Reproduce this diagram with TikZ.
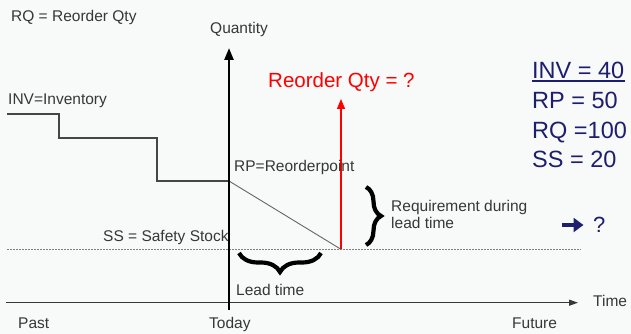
\documentclass[tikz,border=0pt]{standalone}
\usepackage{fontspec}
\setmainfont{Liberation Sans}
\usetikzlibrary{arrows.meta,decorations.pathreplacing}
\definecolor{bg}{RGB}{247,250,248}
\definecolor{txt}{RGB}{55,55,55}
\definecolor{navyc}{RGB}{30,30,110}
\definecolor{invline}{RGB}{70,70,70}
\begin{document}
\begin{tikzpicture}[x=1pt,y=-1pt,
  lbl/.style={font=\fontsize{15.5}{18}\selectfont, text=txt, inner sep=0pt, anchor=base west},
  big/.style={font=\fontsize{23.5}{28}\selectfont, text=navyc, inner sep=0pt, anchor=base west},
  redlbl/.style={font=\fontsize{20.5}{24}\selectfont, text=red, inner sep=0pt, anchor=base west},
  bracestyle/.style={decorate, decoration={brace, amplitude=#1}, line width=4.2pt, black},
  sstyle/.style={gray, line width=0.8pt, dash pattern=on 2pt off 1pt},
]
\fill[bg] (0,0) rectangle (631,334);
\useasboundingbox (0,0) rectangle (631,334);

% named points
\coordinate (axbot) at (229,310);
\coordinate (axtop) at (229,48);
\coordinate (tstart) at (6,302.7);
\coordinate (tend) at (578,302.7);
\coordinate (ssstart) at (7,249.3);
\coordinate (ssend) at (581,249.3);
\coordinate (i0) at (7,114);
\coordinate (i1) at (59,114);
\coordinate (i2) at (59,138);
\coordinate (i3) at (157,138);
\coordinate (i4) at (157,181);
\coordinate (rpt) at (229,181);
\coordinate (sspt) at (341,249.3);
\coordinate (redtip) at (341,99);
\coordinate (ltr) at (321,253);
\coordinate (ltl) at (239,253);
\coordinate (rqt) at (366,187);
\coordinate (rqb) at (366,245);
\coordinate (na) at (562,225);
\coordinate (nb) at (583.5,225);

% safety stock line
\draw[sstyle] (ssstart) -- (ssend);

% inventory line
\draw[invline, line width=1.3pt] (i0) -- (i1) -- (i2) -- (i3) -- (i4) -- (rpt);
\draw[gray!80!black, line width=0.9pt] (rpt) -- (sspt);

% axes
\draw[txt, line width=1.3pt, -{Triangle[length=9pt,width=6pt]}] (tstart) -- (tend);
\draw[black, line width=2.4pt, -{Triangle[length=12pt,width=9pt]}] (axbot) -- (axtop);

% red arrow
\draw[red, line width=1.2pt, -{Triangle[length=10pt,width=8pt]}] (sspt) -- (redtip);

% braces
\draw[bracestyle=19pt] (ltr) -- (ltl);
\draw[bracestyle=15pt] (rqt) -- (rqb);

% texts
\node[lbl] (rq) at (11,22) {RQ = Reorder Qty};
\node[lbl] (qty) at (210,33.3) {Quantity};
\node[lbl] (inv) at (8,105) {INV=Inventory};
\node[redlbl] (reord) at (268,88) {Reorder Qty = ?};
\node[lbl] (rp) at (234,171.5) {RP=Reorderpoint};
\node[lbl] (ss) at (103,241) {SS = Safety Stock};
\node[lbl] (req1) at (391,211.7) {Requirement during};
\node[lbl] (req2) at (391,228.3) {lead time};
\node[lbl] (lead) at (236,295) {Lead time};
\node[lbl] (past) at (18,328) {Past};
\node[lbl] (today) at (209,328) {Today};
\node[lbl] (future) at (512,328) {Future};
\node[lbl] (time) at (593,306.7) {Time};

\node[big] (invv) at (532,79) {INV = 40};
\node[big] (rpv) at (532,108.5) {RP = 50};
\node[big] (rqv) at (532,138) {RQ =100};
\node[big] (ssv) at (532,167) {SS = 20};
\draw[navyc, line width=1.4pt] ([yshift=-2pt]invv.base west) -- ([yshift=-2pt]invv.base east);

\node[big, font=\fontsize{22}{26}\selectfont] (qm) at (593,232.7) {?};
\draw[navyc, line width=4.5pt, -{Triangle[length=10pt,width=14pt]}] (na) -- (nb);
\end{tikzpicture}
\end{document}
